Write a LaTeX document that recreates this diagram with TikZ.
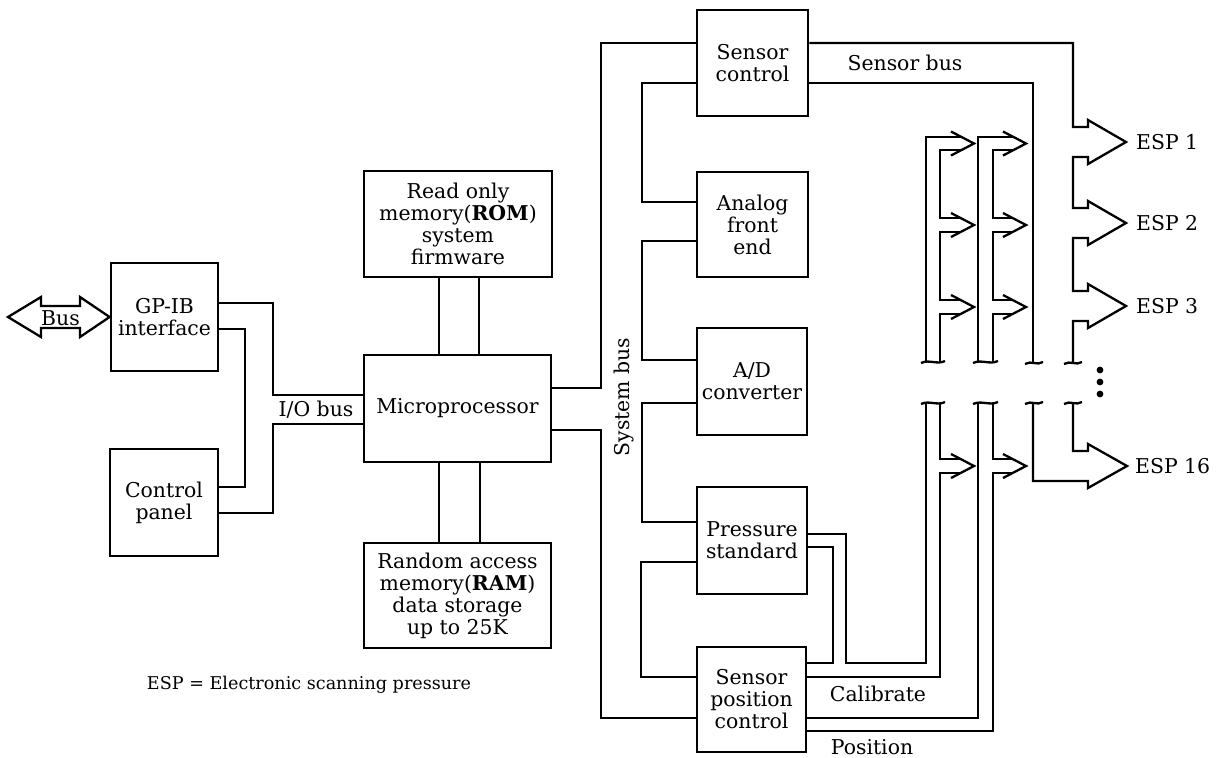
\documentclass[tikz,border=0pt]{standalone}
\usepackage{fontspec}
\setmainfont{DejaVu Serif}
\newcommand\busbreak[3]{\draw (#1,#3+1) .. controls (#1*0.67+#2*0.33,#3-3) and (#1*0.33+#2*0.67,#3+3) .. (#2,#3-1);}
\newcommand\chev[3]{\draw (#1,#3-12) -- (#2,#3) -- (#1,#3+12);}
\begin{document}
\begin{tikzpicture}[x=0.5pt,y=-0.5pt,line width=1.15pt,line join=miter,
  box/.style={draw,line width=1.4pt,inner sep=0pt,align=center,font=\fontsize{10.2}{11}\selectfont},
  lbl/.style={font=\fontsize{10.2}{11}\selectfont,inner sep=0pt}]
\useasboundingbox (0,0) rectangle (1221,757);

% boxes
\node[box,minimum width=53.5pt,minimum height=54pt] (gpib) at (164.5,317) {GP-IB\\interface};
\node[box,minimum width=54pt,minimum height=53.5pt] (ctrl) at (164,502.5) {Control\\panel};
\node[box,minimum width=94pt,minimum height=53pt] (rom) at (458,224) {Read only\\memory(\textbf{ROM})\\system\\firmware};
\node[box,minimum width=93.5pt,minimum height=53.5pt] (micro) at (457.5,408.5) {Microprocessor};
\node[box,minimum width=93.5pt,minimum height=52.5pt] (ram) at (457.5,595.5) {Random access\\memory(\textbf{RAM})\\data storage\\up to 25K};
\node[box,minimum width=55.5pt,minimum height=53pt] (sc) at (752.5,63) {Sensor\\control};
\node[box,minimum width=55.5pt,minimum height=52.5pt] (afe) at (752.5,224.5) {Analog\\front\\end};
\node[box,minimum width=55pt,minimum height=53.5pt] (ad) at (752,381.5) {A/D\\converter};
\node[box,minimum width=55pt,minimum height=53.5pt] (ps) at (752,540.5) {Pressure\\standard};
\node[box,minimum width=54.5pt,minimum height=52.5pt] (spc) at (751.5,699.5) {Sensor\\position\\control};

% Bus double arrow
\draw (8,317) -- (41,297) -- (41,306) -- (80,306) -- (80,297) -- (gpib.west) -- (80,337) -- (80,328) -- (41,328) -- (41,337) -- cycle;
\node[lbl] (bus) at (60.5,318) {Bus};

% I/O bus
\draw (gpib.east |- 0,303) -| (273,395) -- (micro.west |- 0,395);
\draw (gpib.east |- 0,329) -| (245,487) -- (ctrl.east |- 0,487);
\draw (ctrl.east |- 0,513) -| (273,424) -- (micro.west |- 0,424);
\node[lbl] (iobus) at (316,410) {I/O bus};

% memory links
\draw (rom.south -| 439,0) -- (micro.north -| 439,0);
\draw (rom.south -| 479,0) -- (micro.north -| 479,0);
\draw (micro.south -| 439,0) -- (ram.north -| 439,0);
\draw (micro.south -| 480,0) -- (ram.north -| 480,0);

% system bus
\draw (micro.east |- 0,388) -| (601,43) -- (sc.west |- 0,43);
\draw (micro.east |- 0,430) -| (601,718) -- (spc.west |- 0,718);
\draw (sc.west |- 0,83) -| (642,202) -- (afe.west |- 0,202);
\draw (afe.west |- 0,241) -| (642,360) -- (ad.west |- 0,360);
\draw (ad.west |- 0,403) -| (642,522) -- (ps.west |- 0,522);
\draw (ps.west |- 0,562) -| (641,677) -- (spc.west |- 0,677);
\node[lbl,rotate=90] (sysbus) at (624,397) {System bus};

% sensor bus and ESP arrows
\draw (sc.east |- 0,43) -- (1073,43) -- (1073,127) -- (1088,127) -- (1088,120) -- (1126,142) -- (1088,164) -- (1088,157) -- (1073,157)
  -- (1073,208) -- (1088,208) -- (1088,201) -- (1126,223) -- (1088,245) -- (1088,238) -- (1073,238)
  -- (1073,291) -- (1088,291) -- (1088,284) -- (1126,306) -- (1088,328) -- (1088,321) -- (1073,321) -- (1073,363);
\draw (sc.east |- 0,83) -- (1033,83) -- (1033,363);
\draw (1073,403) -- (1073,451) -- (1088,451) -- (1088,444) -- (1127,466) -- (1088,488) -- (1088,481) -- (1033,481) -- (1033,403);
\node[lbl] (sbus) at (905,63) {Sensor bus};
\node[lbl,anchor=west] (esp1) at (1135,142) {ESP 1};
\node[lbl,anchor=west] (esp2) at (1135,223) {ESP 2};
\node[lbl,anchor=west] (esp3) at (1135,306) {ESP 3};
\node[lbl,anchor=west] (esp16) at (1134,466) {ESP 16};
\fill (1100,370) circle (1.7pt) (1100,382) circle (1.7pt) (1100,394) circle (1.7pt);

% calibrate bus (upper)
\draw (926,362) -- (926,137) -- (961,137);
\draw (961,150) -- (940,150) -- (940,218) -- (961,218);
\draw (961,232) -- (940,232) -- (940,300) -- (961,300);
\draw (961,314) -- (940,314) -- (940,362);
\chev{951}{974}{143.5}
\chev{951}{974}{225}
\chev{951}{974}{307}
% position bus (upper)
\draw (978,362) -- (978,137) -- (1013,137);
\draw (1013,150) -- (993,150) -- (993,218) -- (1013,218);
\draw (1013,232) -- (993,232) -- (993,300) -- (1013,300);
\draw (1013,314) -- (993,314) -- (993,362);
\chev{1003}{1026}{143.5}
\chev{1003}{1026}{225}
\chev{1003}{1026}{307}

% lower buses
\draw (ps.east |- 0,534) -- (846,534) -- (846,663) -- (926,663) -- (926,403);
\draw (ps.east |- 0,547) -- (833,547) -- (833,663) -- (spc.east |- 0,663);
\draw (spc.east |- 0,677) -- (940,677) -- (940,473) -- (961,473);
\draw (961,459) -- (940,459) -- (940,403);
\chev{951}{974}{466}
\draw (spc.east |- 0,718) -- (978,718) -- (978,403);
\draw (spc.east |- 0,731) -- (993,731) -- (993,473) -- (1013,473);
\draw (1013,459) -- (993,459) -- (993,403);
\chev{1003}{1026}{466}
\node[lbl] (calib) at (878,694) {Calibrate};
\node[lbl] (posn) at (872,747) {Position};

% break marks
\busbreak{921}{945}{362}
\busbreak{973}{998}{362}
\busbreak{1025}{1043}{363}
\busbreak{1064}{1082}{363}
\busbreak{921}{945}{403}
\busbreak{973}{998}{403}
\busbreak{1025}{1043}{403}
\busbreak{1064}{1082}{403}

\node[font=\fontsize{8.8}{10}\selectfont,inner sep=0pt] (legend) at (309,685) {ESP = Electronic scanning pressure};
\end{tikzpicture}
\end{document}
